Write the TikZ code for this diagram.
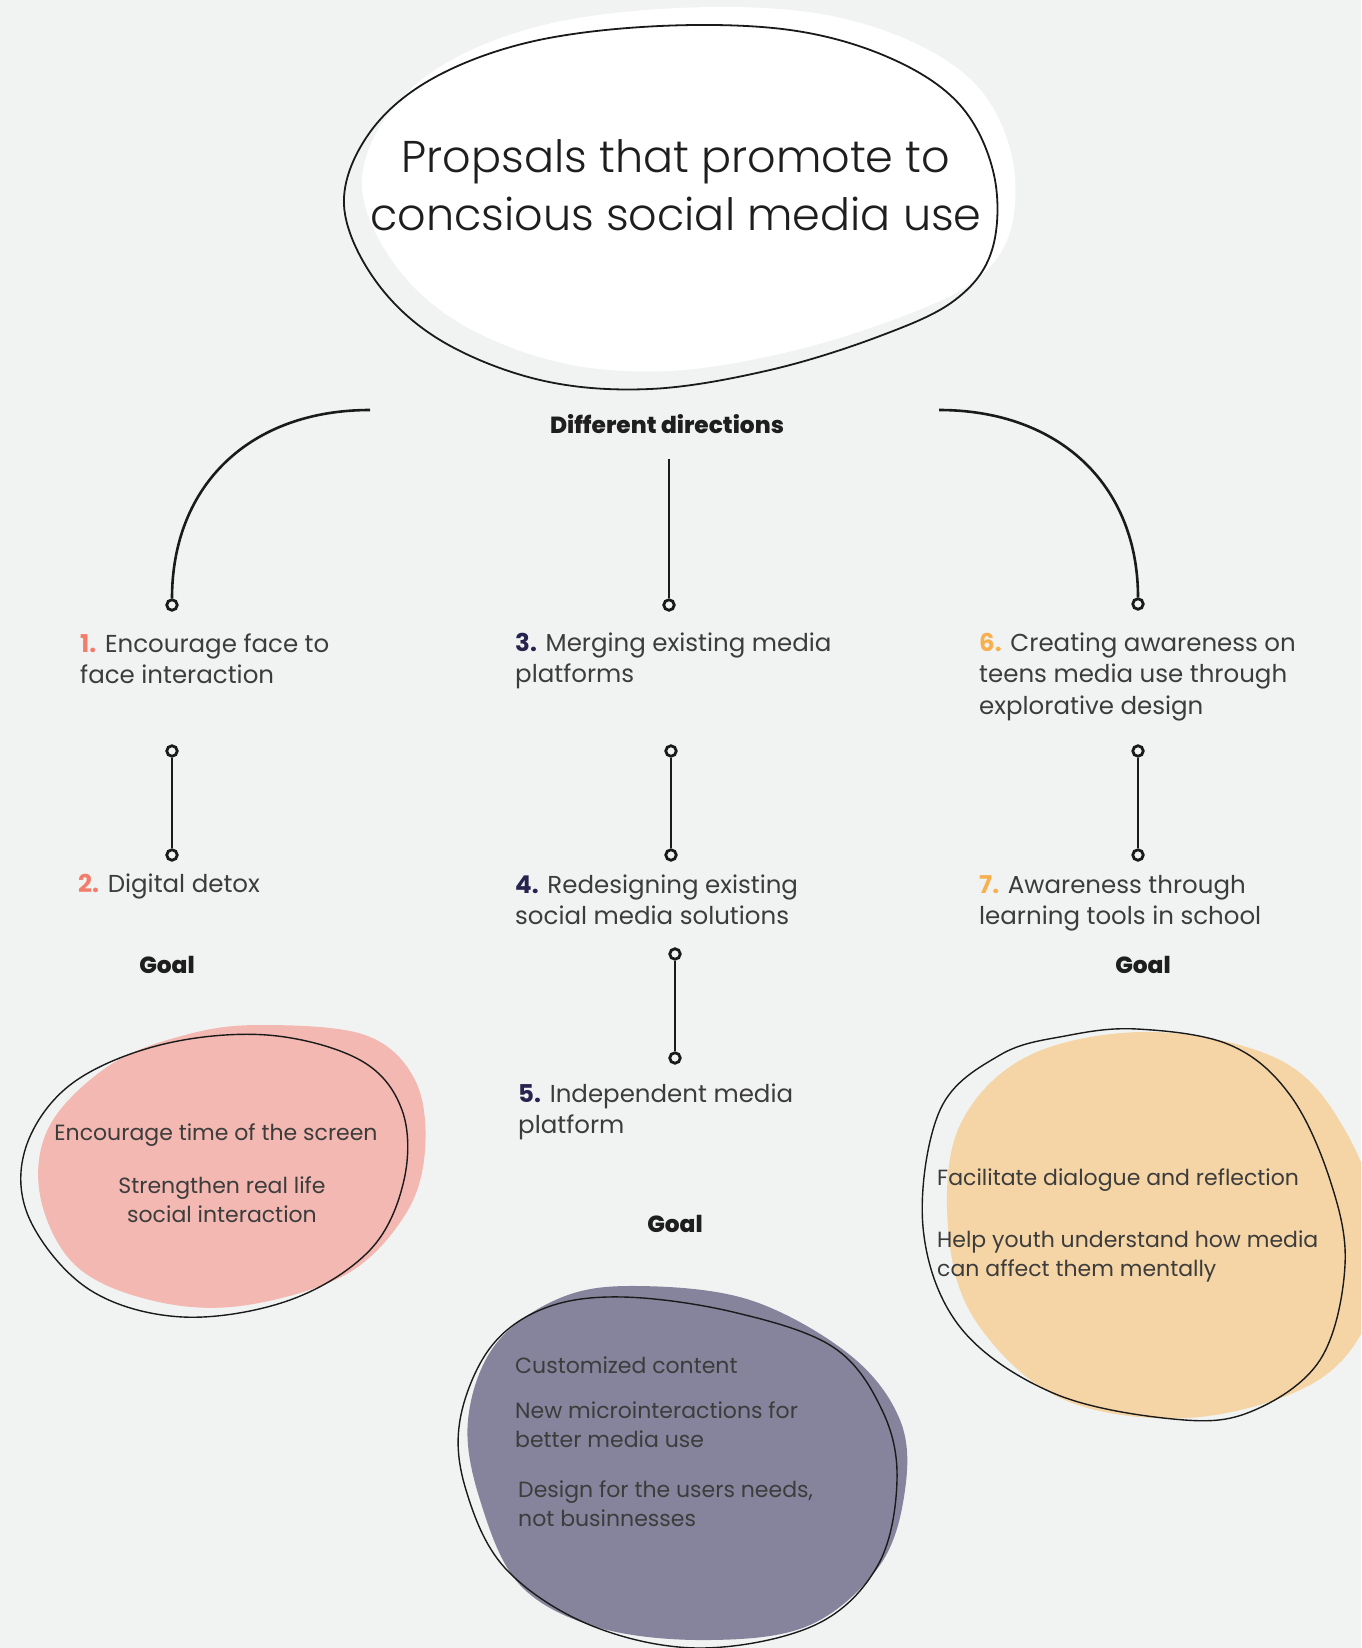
\documentclass[tikz,border=0pt]{standalone}
\usepackage{fontspec}
\setmainfont{Poppins}
\newfontfamily\titlefont{Poppins Light}
\newfontfamily\heavyfont{Poppins ExtraBold}
\definecolor{bg}{HTML}{F1F3F2}
\definecolor{pinkfill}{HTML}{F2B8B1}
\definecolor{purplefill}{HTML}{85849C}
\definecolor{orangefill}{HTML}{F5D5A6}
\definecolor{txtgray}{HTML}{3C3C3C}
\definecolor{headblack}{HTML}{1E1E1E}
\definecolor{linec}{HTML}{1A1A1A}
\definecolor{numred}{HTML}{F37C6B}
\definecolor{numnavy}{HTML}{27234F}
\definecolor{numorange}{HTML}{F8B04F}
\newcommand{\nm}[2]{{\bfseries\color{#1}#2}}
\begin{document}
\begin{tikzpicture}[x=1pt,y=-1pt,
  lbl/.style={anchor=base west, inner sep=0, text=txtgray, font=\fontsize{24.5}{31.5}\selectfont},
  goaltxt/.style={inner sep=0, text=txtgray, font=\fontsize{22}{29}\selectfont},
  head/.style={anchor=base, inner sep=0, text=headblack, font=\heavyfont\fontsize{23.3}{26}\selectfont},
  dot/.style={circle, draw=linec, line width=2.8pt, fill=bg, minimum size=10.5pt, inner sep=0},
  conn/.style={draw=linec, line width=2.6pt},
  blobline/.style={draw=linec, line width=1.4pt},
  smoothblob/.style={smooth cycle, tension=0.6}
]
\useasboundingbox (0,0) rectangle (1361,1648);
\fill[bg] (0,0) rectangle (1361,1648);
\clip (0,0) rectangle (1361,1648);

% ---------- title blob ----------
\fill[white] plot[smoothblob] coordinates {(362,187) (386,117) (448,62) (548,24) (678,8) (808,12) (908,40) (978,87) (1012,157) (1010,232) (973,282) (898,318) (788,352) (668,371) (558,362) (458,322) (393,262)};
\draw[blobline, line width=1.8pt] plot[smoothblob] coordinates {(344,205) (368,135) (430,80) (530,42) (660,26) (790,30) (890,58) (960,105) (994,175) (992,250) (955,300) (880,336) (770,370) (650,389) (540,380) (440,340) (375,280)};
\node[inner sep=0, text=headblack, font=\titlefont\fontsize{44.5}{58}\selectfont, anchor=base] (title) at (676,173)
  {\vtop{\hbox to 0pt{\hss Propsals that promote to\hss}\hbox to 0pt{\hss concsious social media use\hss}}};

% ---------- heading ----------
\node[head] (dirs) at (667,433) {Different directions};

% ---------- connectors row 1 ----------
\coordinate (la) at (370,410);
\coordinate (ra) at (939,410);
\coordinate (ma) at (669,459);
\node[dot] (d1) at (172,605) {};
\node[dot] (d3) at (669,605) {};
\node[dot] (d6) at (1138,604) {};
\draw[conn] (la) .. controls (250,410) and (172,485) .. (d1.north);
\draw[conn] (ma) -- (d3.north);
\draw[conn] (ra) .. controls (1059,410) and (1138,485) .. (d6.north);

% ---------- labels row 1 ----------
\node[lbl] (t1) at (80,652) {\vtop{\hbox{\nm{numred}{1.} Encourage face to}\hbox{face interaction}}};
\node[lbl] (t3) at (515,651) {\vtop{\hbox{\nm{numnavy}{3.} Merging existing media}\hbox{platforms}}};
\node[lbl] (t6) at (979,651) {\vtop{\hbox{\nm{numorange}{6.} Creating awareness on}\hbox{teens media use through}\hbox{explorative design}}};

% ---------- connectors row 2 ----------
\node[dot] (e1) at (172,751) {};
\node[dot] (f1) at (172,855) {};
\node[dot] (e3) at (671,751) {};
\node[dot] (f3) at (671,855) {};
\node[dot] (e6) at (1138,751) {};
\node[dot] (f6) at (1138,855) {};
\draw[conn] (e1) -- (f1);
\draw[conn] (e3) -- (f3);
\draw[conn] (e6) -- (f6);

% ---------- labels row 2 ----------
\node[lbl] (t2) at (78,892) {\nm{numred}{2.} Digital detox};
\node[lbl] (t4) at (515,893) {\vtop{\hbox{\nm{numnavy}{4.} Redesigning existing}\hbox{social media solutions}}};
\node[lbl] (t7) at (979,893) {\vtop{\hbox{\nm{numorange}{7.} Awareness through}\hbox{learning tools in school}}};

% ---------- connector row 3 ----------
\node[dot] (g4) at (675,954) {};
\node[dot] (h4) at (675,1058) {};
\draw[conn] (g4) -- (h4);
\node[lbl] (t5) at (518,1102) {\vtop{\hbox{\nm{numnavy}{5.} Independent media}\hbox{platform}}};

% ---------- goal headings ----------
\node[head] (goalL) at (167,973) {Goal};
\node[head] (goalR) at (1143,973) {Goal};
\node[head] (goalM) at (675,1232) {Goal};

% ---------- pink blob ----------
\fill[pinkfill] plot[smoothblob] coordinates {(260,1025) (365,1035) (415,1080) (425,1150) (405,1215) (345,1275) (240,1306) (150,1300) (75,1265) (40,1195) (50,1125) (110,1065) (185,1035)};
\draw[blobline] plot[smoothblob] coordinates {(267,1035) (360,1060) (402,1110) (404,1180) (370,1250) (290,1300) (183,1317) (90,1290) (30,1220) (25,1150) (70,1085) (160,1045)};
\node[goaltxt, anchor=base] (p1) at (216,1140) {Encourage time of the screen};
\node[goaltxt, anchor=base] (p2) at (222,1193) {\vtop{\hbox to 0pt{\hss Strengthen real life\hss}\hbox to 0pt{\hss social interaction\hss}}};

% ---------- purple blob ----------
\fill[purplefill] plot[smoothblob] coordinates {(637,1286) (750,1300) (850,1355) (900,1420) (905,1490) (880,1565) (810,1625) (710,1640) (600,1628) (520,1585) (480,1500) (468,1420) (495,1345) (560,1298)};
\draw[blobline] plot[smoothblob] coordinates {(623,1297) (733,1312) (833,1347) (882,1410) (897,1480) (878,1565) (815,1625) (700,1648) (590,1625) (505,1568) (466,1490) (460,1420) (490,1348) (545,1308)};
\node[goaltxt, anchor=base west] (q1) at (515,1373) {Customized content};
\node[goaltxt, anchor=base west] (q2) at (515,1418) {\vtop{\hbox{New microinteractions for}\hbox{better media use}}};
\node[goaltxt, anchor=base west] (q3) at (518,1497) {\vtop{\hbox{Design for the users needs,}\hbox{not businnesses}}};

% ---------- orange blob ----------
\fill[orangefill] plot[smoothblob] coordinates {(1153,1032) (1280,1060) (1345,1130) (1380,1230) (1368,1320) (1310,1385) (1187,1418) (1060,1398) (975,1320) (948,1227) (960,1125) (1030,1055)};
\draw[blobline] plot[smoothblob] coordinates {(1137,1029) (1230,1045) (1290,1095) (1330,1180) (1345,1265) (1320,1360) (1250,1412) (1173,1419) (1053,1393) (960,1327) (923,1227) (940,1110) (1000,1055) (1065,1036)};
\node[goaltxt, anchor=base west] (o1) at (937,1185) {Facilitate dialogue and reflection};
\node[goaltxt, anchor=base west] (o2) at (937,1247) {\vtop{\hbox{Help youth understand how media}\hbox{can affect them mentally}}};
\end{tikzpicture}
\end{document}
